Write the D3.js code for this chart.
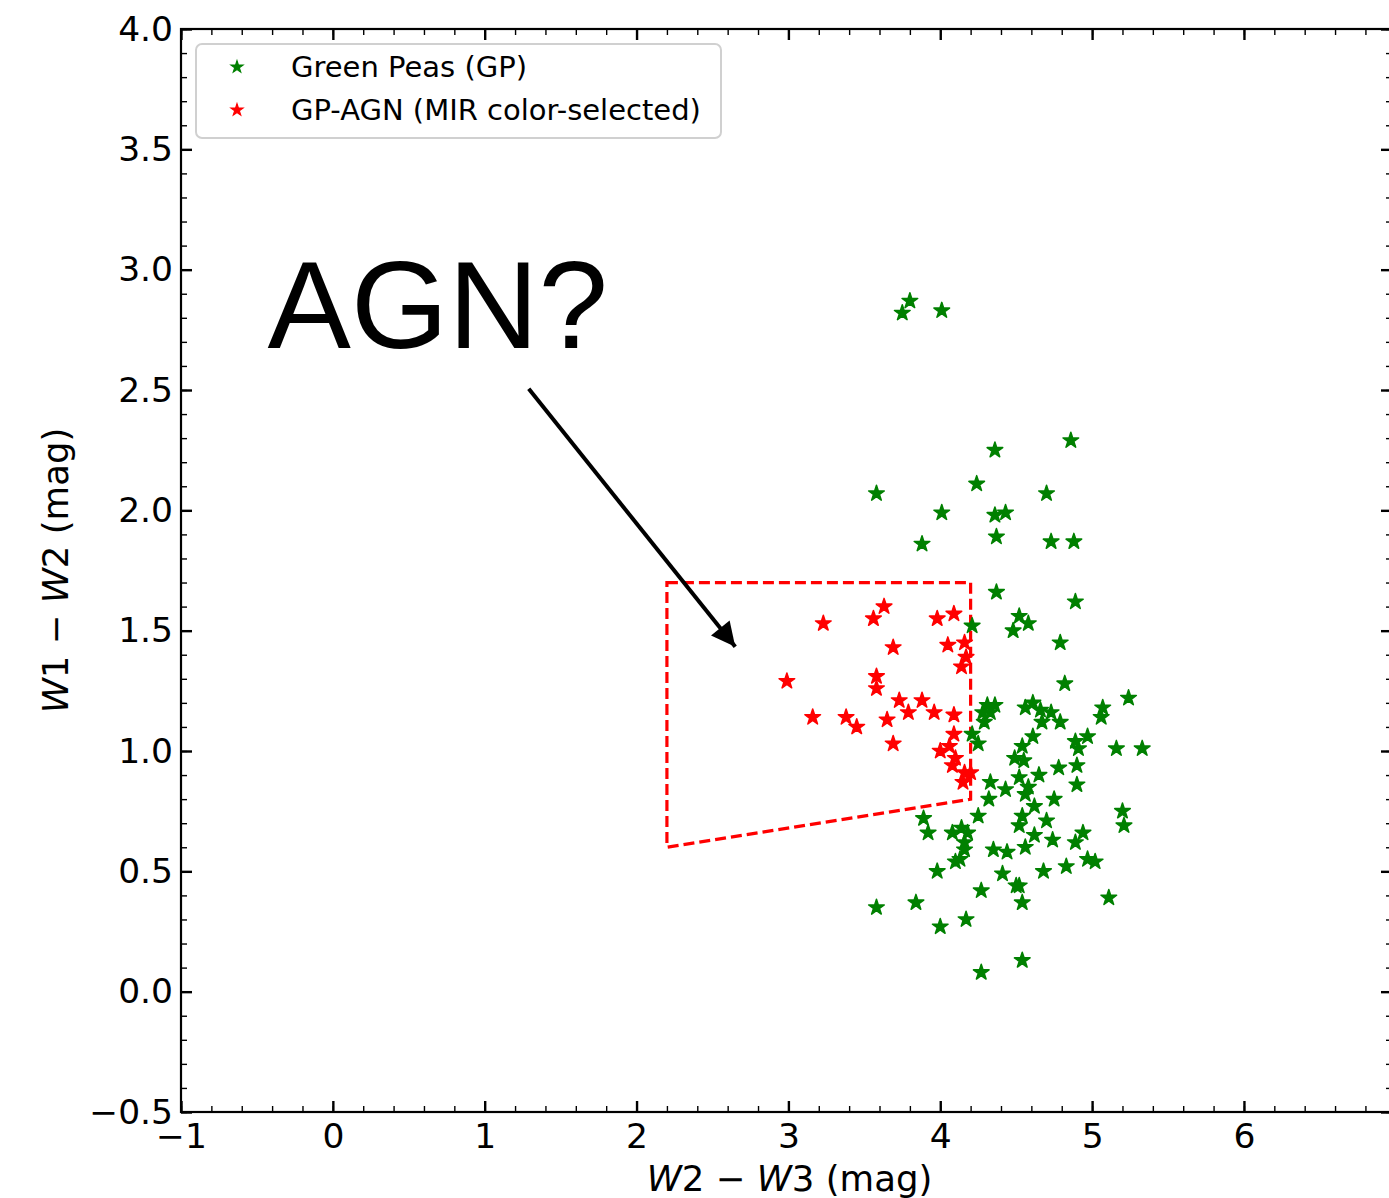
<!DOCTYPE html>
<html>
<head>
<meta charset="utf-8">
<script src="https://cdn.jsdelivr.net/npm/d3@7"></script>
<style>
  html, body { margin: 0; padding: 0; background: #ffffff; overflow: hidden; }
  svg { display: block; }
  text { fill: #000; }
</style>
</head>
<body>
<div id="chart"></div>
<script>
// ---------------------------------------------------------------------------//
// Data: W2-W3 (x) and W1-W2 (y), in mag
// ---------------------------------------------------------------------------//
const gpX = [
  3.80, 3.75, 4.01, 4.36, 4.86, 4.24, 3.58, 4.70, 4.01, 4.36,
  4.43, 4.37, 3.88, 4.73, 4.88, 4.37, 4.89, 4.52, 4.58, 4.48,
  4.21, 4.79, 4.82, 5.24, 4.31, 4.36, 4.28, 4.33, 4.29, 4.56,
  4.61, 4.66, 4.73, 4.67, 4.79, 5.07, 5.06, 4.21, 4.25, 4.61,
  4.54, 4.89, 4.97, 4.91, 5.16, 5.33, 4.49, 4.55, 4.78, 4.90,
  4.33, 4.52, 4.65, 4.43, 4.58, 4.56, 4.32, 4.90, 4.75, 4.62,
  5.20, 5.21, 3.89, 3.92, 4.25, 4.54, 4.70, 4.52, 4.08, 4.14,
  4.18, 4.62, 4.74, 4.94, 4.89, 4.16, 4.35, 4.44, 4.56, 4.16,
  4.10, 4.13, 3.98, 4.41, 4.68, 4.83, 4.97, 5.02, 4.50, 4.52,
  4.27, 4.54, 5.11, 3.58, 3.84, 4.17, 4.00, 4.54, 4.27,
];
const gpY = [
  2.87, 2.82, 2.83, 2.25, 2.29, 2.11, 2.07, 2.07, 1.99, 1.98,
  1.99, 1.89, 1.86, 1.87, 1.87, 1.66, 1.62, 1.56, 1.53, 1.50,
  1.52, 1.45, 1.28, 1.22, 1.19, 1.19, 1.16, 1.16, 1.12, 1.18,
  1.20, 1.17, 1.16, 1.12, 1.12, 1.18, 1.14, 1.07, 1.03, 1.06,
  1.02, 1.04, 1.06, 1.01, 1.01, 1.01, 0.97, 0.96, 0.93, 0.94,
  0.87, 0.89, 0.90, 0.84, 0.85, 0.82, 0.80, 0.86, 0.80, 0.77,
  0.75, 0.69, 0.72, 0.66, 0.73, 0.73, 0.71, 0.69, 0.66, 0.68,
  0.66, 0.65, 0.63, 0.66, 0.62, 0.62, 0.59, 0.58, 0.60, 0.59,
  0.54, 0.55, 0.50, 0.49, 0.50, 0.52, 0.55, 0.54, 0.44, 0.44,
  0.42, 0.37, 0.39, 0.35, 0.37, 0.30, 0.27, 0.13, 0.08,
];
const agnX = [
  3.63, 3.56, 3.23, 3.98, 4.09, 3.69, 4.05, 4.16, 4.17, 4.14,
  2.99, 3.58, 3.58, 3.73, 3.88, 3.79, 3.96, 4.09, 3.16, 3.38,
  3.45, 3.65, 3.69, 4.09, 4.00, 4.06, 4.10, 4.08, 4.16, 4.20,
  4.15,
];
const agnY = [
  1.60, 1.55, 1.53, 1.55, 1.57, 1.43, 1.44, 1.45, 1.39, 1.35,
  1.29, 1.31, 1.26, 1.21, 1.21, 1.16, 1.16, 1.15, 1.14, 1.14,
  1.10, 1.13, 1.03, 1.07, 1.00, 1.02, 0.97, 0.94, 0.91, 0.91,
  0.87,
];

// MIR colour-selection wedge (x, y corners)
const boxX = [2.2, 4.2, 4.2, 2.2];
const boxY = [1.7, 1.7, 0.8, 0.6];

const seriesNames = ["Green Peas (GP)", "GP-AGN (MIR color-selected)"];
const seriesColors = ["#008000", "#ff0000"];

const xMajorTicks = [-1, 0, 1, 2, 3, 4, 5, 6];
const yMajorTicks = [-0.5, 0, 0.5, 1, 1.5, 2, 2.5, 3, 3.5, 4];

// annotation
const noteText = "AGN?";
const noteAt = [-0.43, 2.675];
const arrowFrom = [1.29, 2.505];
const arrowTo = [2.65, 1.433];

// ---------------------------------------------------------------------------//
// Layout
// ---------------------------------------------------------------------------//
const width = 1389;
const height = 1198;
const plot = { left: 181, top: 29, right: 1392, bottom: 1112 };
const mplFont = "'DejaVu Sans', sans-serif";

const svg = d3.select("#chart")
  .append("svg")
  .attr("width", width)
  .attr("height", height);

const x = d3.scaleLinear().domain([-1, 6.975]).range([plot.left, plot.right]);
const y = d3.scaleLinear().domain([-0.5, 4.0]).range([plot.bottom, plot.top]);

const minus = (s) => s.replace("-", "\u2212");
const fmtX = (d) => minus(d3.format("d")(d));
const fmtY = (d) => minus(d3.format(".1f")(d));

const xMinor = d3.range(-1, 7.0, 0.2).map((d) => +d.toFixed(2));
const yMinor = d3.range(-0.5, 4.01, 0.1).map((d) => +d.toFixed(2));

// ---------------------------------------------------------------------------//
// Axes (ticks pointing inward on all four sides)
// ---------------------------------------------------------------------------//
function styleAxis(g, major) {
  g.select(".domain").remove();
  g.selectAll(".tick line")
    .attr("stroke", "#000")
    .attr("stroke-width", major ? 2.4 : 1.4);
  g.selectAll(".tick text")
    .attr("fill", "#000")
    .style("font-family", mplFont)
    .style("font-size", "34.5px");
}

// bottom
svg.append("g")
  .attr("transform", `translate(0,${plot.bottom})`)
  .call(d3.axisBottom(x).tickValues(xMinor).tickSize(-6).tickFormat(""))
  .call((g) => styleAxis(g, false));
svg.append("g")
  .attr("transform", `translate(0,${plot.bottom})`)
  .call(d3.axisBottom(x).tickValues(xMajorTicks).tickSize(-11).tickPadding(12).tickFormat(fmtX))
  .call((g) => styleAxis(g, true));
// top
svg.append("g")
  .attr("transform", `translate(0,${plot.top})`)
  .call(d3.axisTop(x).tickValues(xMinor).tickSize(-6).tickFormat(""))
  .call((g) => styleAxis(g, false));
svg.append("g")
  .attr("transform", `translate(0,${plot.top})`)
  .call(d3.axisTop(x).tickValues(xMajorTicks).tickSize(-11).tickFormat(""))
  .call((g) => styleAxis(g, true));
// left
svg.append("g")
  .attr("transform", `translate(${plot.left},0)`)
  .call(d3.axisLeft(y).tickValues(yMinor).tickSize(-6).tickFormat(""))
  .call((g) => styleAxis(g, false));
svg.append("g")
  .attr("transform", `translate(${plot.left},0)`)
  .call(d3.axisLeft(y).tickValues(yMajorTicks).tickSize(-11).tickPadding(8).tickFormat(fmtY))
  .call((g) => styleAxis(g, true));
// right
svg.append("g")
  .attr("transform", `translate(${plot.right},0)`)
  .call(d3.axisRight(y).tickValues(yMinor).tickSize(-6).tickFormat(""))
  .call((g) => styleAxis(g, false));
svg.append("g")
  .attr("transform", `translate(${plot.right},0)`)
  .call(d3.axisRight(y).tickValues(yMajorTicks).tickSize(-11).tickFormat(""))
  .call((g) => styleAxis(g, true));

// frame
svg.append("rect")
  .attr("x", plot.left)
  .attr("y", plot.top)
  .attr("width", plot.right - plot.left)
  .attr("height", plot.bottom - plot.top)
  .attr("fill", "none")
  .attr("stroke", "#000")
  .attr("stroke-width", 2.2);

// axis titles
function mathTitle(sel, a, b) {
  sel.append("tspan").style("font-style", "italic").text("W");
  sel.append("tspan").text(`${a} \u2212 `);
  sel.append("tspan").style("font-style", "italic").text("W");
  sel.append("tspan").text(`${b} (mag)`);
}

const xTitle = svg.append("text")
  .attr("x", (plot.left + plot.right) / 2 + 3)
  .attr("y", 1191)
  .attr("text-anchor", "middle")
  .style("font-family", mplFont)
  .style("font-size", "35.5px");
mathTitle(xTitle, 2, 3);

const yTitle = svg.append("text")
  .attr("transform", `translate(68,${(plot.top + plot.bottom) / 2}) rotate(-90)`)
  .attr("text-anchor", "middle")
  .style("font-family", mplFont)
  .style("font-size", "35.5px");
mathTitle(yTitle, 1, 2);

// ---------------------------------------------------------------------------//
// Marks
// ---------------------------------------------------------------------------//
const line = d3.line().x((d) => x(d[0])).y((d) => y(d[1]));
svg.append("path")
  .attr("d", line(d3.zip(boxX, boxY)) + "Z")
  .attr("fill", "none")
  .attr("stroke", "#ff0000")
  .attr("stroke-width", 3.2)
  .attr("stroke-dasharray", "11,5");

const star = d3.symbol().type(d3.symbolStar);

function drawStars(xs, ys, color, cls) {
  svg.append("g")
    .selectAll(`path.${cls}`)
    .data(d3.zip(xs, ys))
    .join("path")
    .attr("class", cls)
    .attr("d", star.size(76)())
    .attr("transform", (d) => `translate(${x(d[0])},${y(d[1])})`)
    .attr("fill", color)
    .attr("stroke", color)
    .attr("stroke-width", 1.5)
    .attr("stroke-linejoin", "round");
}
drawStars(gpX, gpY, seriesColors[0], "gp");
drawStars(agnX, agnY, seriesColors[1], "agn");

// annotation text and arrow
svg.append("text")
  .attr("x", x(noteAt[0]))
  .attr("y", y(noteAt[1]))
  .style("font-family", "'Liberation Sans', Arial, Helvetica, sans-serif")
  .style("font-size", "125px")
  .text(noteText);

svg.append("defs")
  .append("marker")
  .attr("id", "head")
  .attr("viewBox", "0 0 10 10")
  .attr("refX", 10)
  .attr("refY", 5)
  .attr("markerUnits", "userSpaceOnUse")
  .attr("markerWidth", 26)
  .attr("markerHeight", 24)
  .attr("orient", "auto")
  .append("path")
  .attr("d", "M0,0L10,5L0,10Z")
  .attr("fill", "#000");

svg.append("line")
  .attr("x1", x(arrowFrom[0]))
  .attr("y1", y(arrowFrom[1]))
  .attr("x2", x(arrowTo[0]))
  .attr("y2", y(arrowTo[1]))
  .attr("stroke", "#000")
  .attr("stroke-width", 4)
  .attr("marker-end", "url(#head)");

// ---------------------------------------------------------------------------//
// Legend
// ---------------------------------------------------------------------------//
const legend = svg.append("g");
legend.append("rect")
  .attr("x", 196)
  .attr("y", 44)
  .attr("width", 525)
  .attr("height", 94)
  .attr("rx", 6)
  .attr("fill", "#fff")
  .attr("fill-opacity", 0.8)
  .attr("stroke", "#d0d0d0")
  .attr("stroke-width", 2);

seriesNames.forEach((name, i) => {
  const cy = 67 + i * 43;
  legend.append("path")
    .attr("d", star.size(46)())
    .attr("transform", `translate(237,${cy})`)
    .attr("fill", seriesColors[i])
    .attr("stroke", seriesColors[i])
    .attr("stroke-width", 1.1);
  legend.append("text")
    .attr("x", 291)
    .attr("y", cy + 10)
    .style("font-family", mplFont)
    .style("font-size", "29px")
    .text(name);
});
</script>
</body>
</html>
